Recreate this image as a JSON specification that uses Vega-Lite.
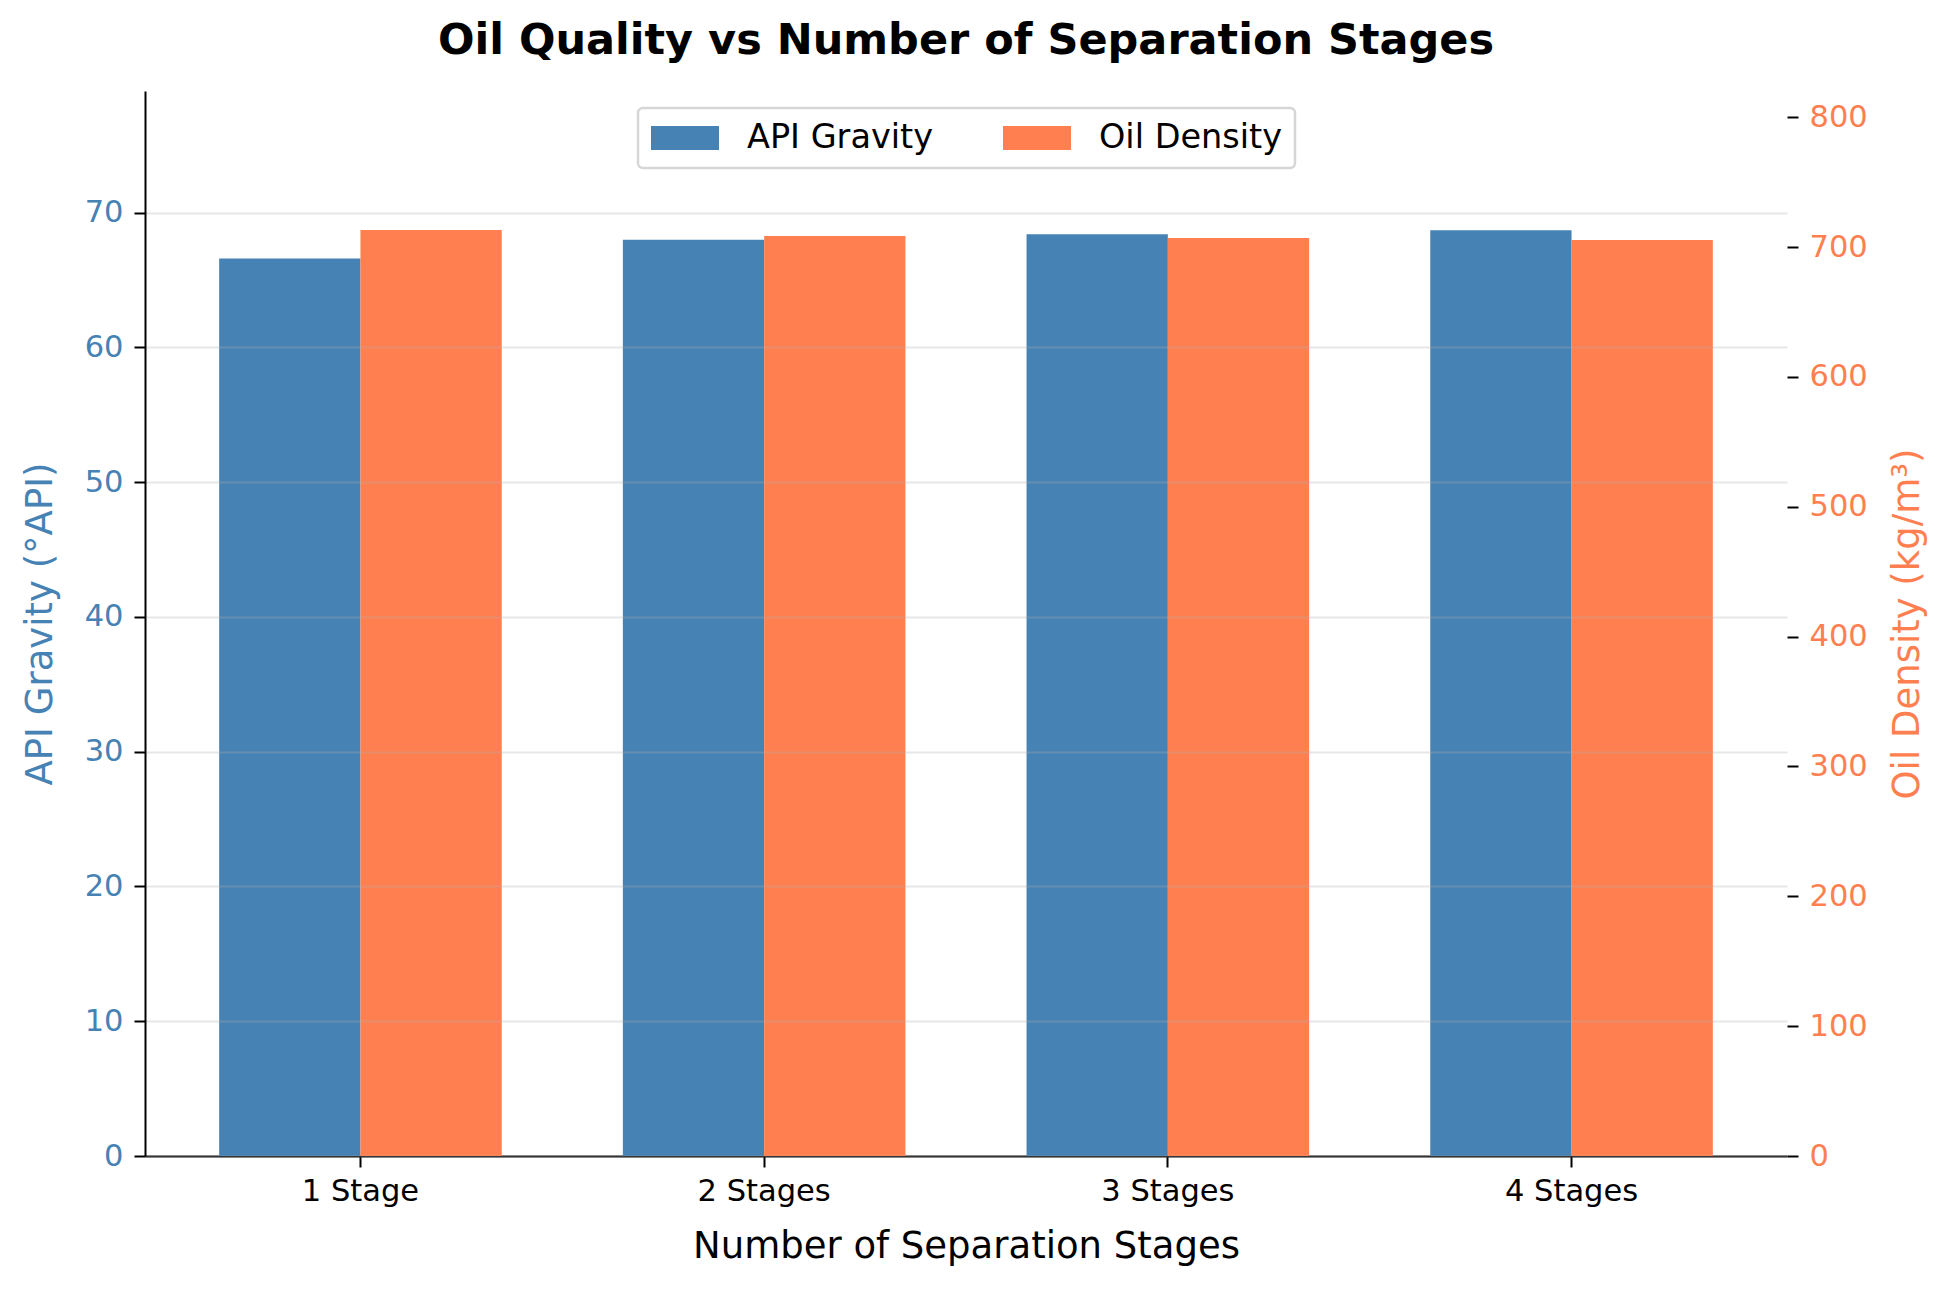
{
  "$schema": "https://vega.github.io/schema/vega-lite/v6.json",
  "width": 1642,
  "height": 1065,
  "autosize": {"type": "none"},
  "padding": {"left": 145, "top": 91, "right": 164, "bottom": 135},
  "background": "white",
  "config": {
    "font": "DejaVu Sans",
    "view": {"stroke": null},
    "axis": {
      "labelFont": "DejaVu Sans",
      "titleFont": "DejaVu Sans",
      "titleFontWeight": "normal",
      "labelFontSize": 30.5,
      "titleFontSize": 37,
      "domainColor": "black",
      "domainWidth": 2,
      "tickColor": "black",
      "tickWidth": 2,
      "tickSize": 11
    },
    "legend": {"strokeWidth": 2.5}
  },
  "title": {
    "text": "Oil Quality vs Number of Separation Stages",
    "fontSize": 43,
    "fontWeight": "bold",
    "color": "black",
    "anchor": "middle",
    "baseline": "alphabetic",
    "offset": -6
  },
  "data": {
    "values": [
      {"stage": "1 Stage", "series": "API Gravity", "value": 66.6},
      {"stage": "2 Stages", "series": "API Gravity", "value": 68.0},
      {"stage": "3 Stages", "series": "API Gravity", "value": 68.4},
      {"stage": "4 Stages", "series": "API Gravity", "value": 68.7},
      {"stage": "1 Stage", "series": "Oil Density", "value": 713.2},
      {"stage": "2 Stages", "series": "Oil Density", "value": 708.5},
      {"stage": "3 Stages", "series": "Oil Density", "value": 707.0},
      {"stage": "4 Stages", "series": "Oil Density", "value": 705.4}
    ]
  },
  "encoding": {
    "x": {
      "field": "stage",
      "type": "nominal",
      "sort": null,
      "scale": {"paddingInner": 0.3, "paddingOuter": 0.1837},
      "axis": {
        "title": "Number of Separation Stages",
        "labelAngle": 0,
        "labelColor": "black",
        "titleColor": "black",
        "labelPadding": 9,
        "titlePadding": 22
      }
    },
    "xOffset": {
      "field": "series",
      "type": "nominal",
      "scale": {"domain": ["API Gravity", "Oil Density"], "paddingInner": 0, "paddingOuter": 0}
    },
    "color": {
      "field": "series",
      "type": "nominal",
      "scale": {"domain": ["API Gravity", "Oil Density"], "range": ["#4682B4", "#FF7F50"]},
      "legend": {
        "title": null,
        "orient": "none",
        "legendX": 493,
        "legendY": 17,
        "direction": "horizontal",
        "labelFontSize": 33.5,
        "labelColor": "black",
        "labelLimit": 400,
        "symbolType": "M-1,-0.35L1,-0.35L1,0.35L-1,0.35Z",
        "symbolSize": 4624,
        "symbolStrokeWidth": 0,
        "symbolOpacity": 1,
        "clipHeight": 34,
        "labelOffset": 28,
        "columnPadding": 69,
        "padding": 13,
        "strokeColor": "#d6d6d6",
        "fillColor": "white",
        "cornerRadius": 5
      }
    }
  },
  "layer": [
    {
      "transform": [{"filter": "datum.series == 'API Gravity'"}],
      "mark": {"type": "bar"},
      "encoding": {
        "y": {
          "field": "value",
          "type": "quantitative",
          "scale": {"domain": [0, 79.03], "nice": false},
          "axis": {
            "title": "API Gravity (°API)",
            "values": [0, 10, 20, 30, 40, 50, 60, 70],
            "labelColor": "#4682B4",
            "titleColor": "#4682B4",
            "labelPadding": 11,
            "titlePadding": 25,
            "grid": true,
            "gridColor": "#b0b0b0",
            "gridOpacity": 0.3,
            "gridWidth": 2,
            "zindex": 1
          }
        }
      }
    },
    {
      "transform": [{"filter": "datum.series == 'Oil Density'"}],
      "mark": {"type": "bar"},
      "encoding": {
        "y": {
          "field": "value",
          "type": "quantitative",
          "scale": {"domain": [0, 820.2], "nice": false},
          "axis": {
            "orient": "right",
            "title": "Oil Density (kg/m³)",
            "values": [0, 100, 200, 300, 400, 500, 600, 700, 800],
            "labelColor": "#FF7F50",
            "titleColor": "#FF7F50",
            "labelPadding": 11,
            "titlePadding": 22,
            "titleAngle": 270,
            "titleBaseline": "top",
            "domain": false,
            "grid": false
          }
        }
      }
    }
  ],
  "resolve": {"scale": {"y": "independent"}}
}
